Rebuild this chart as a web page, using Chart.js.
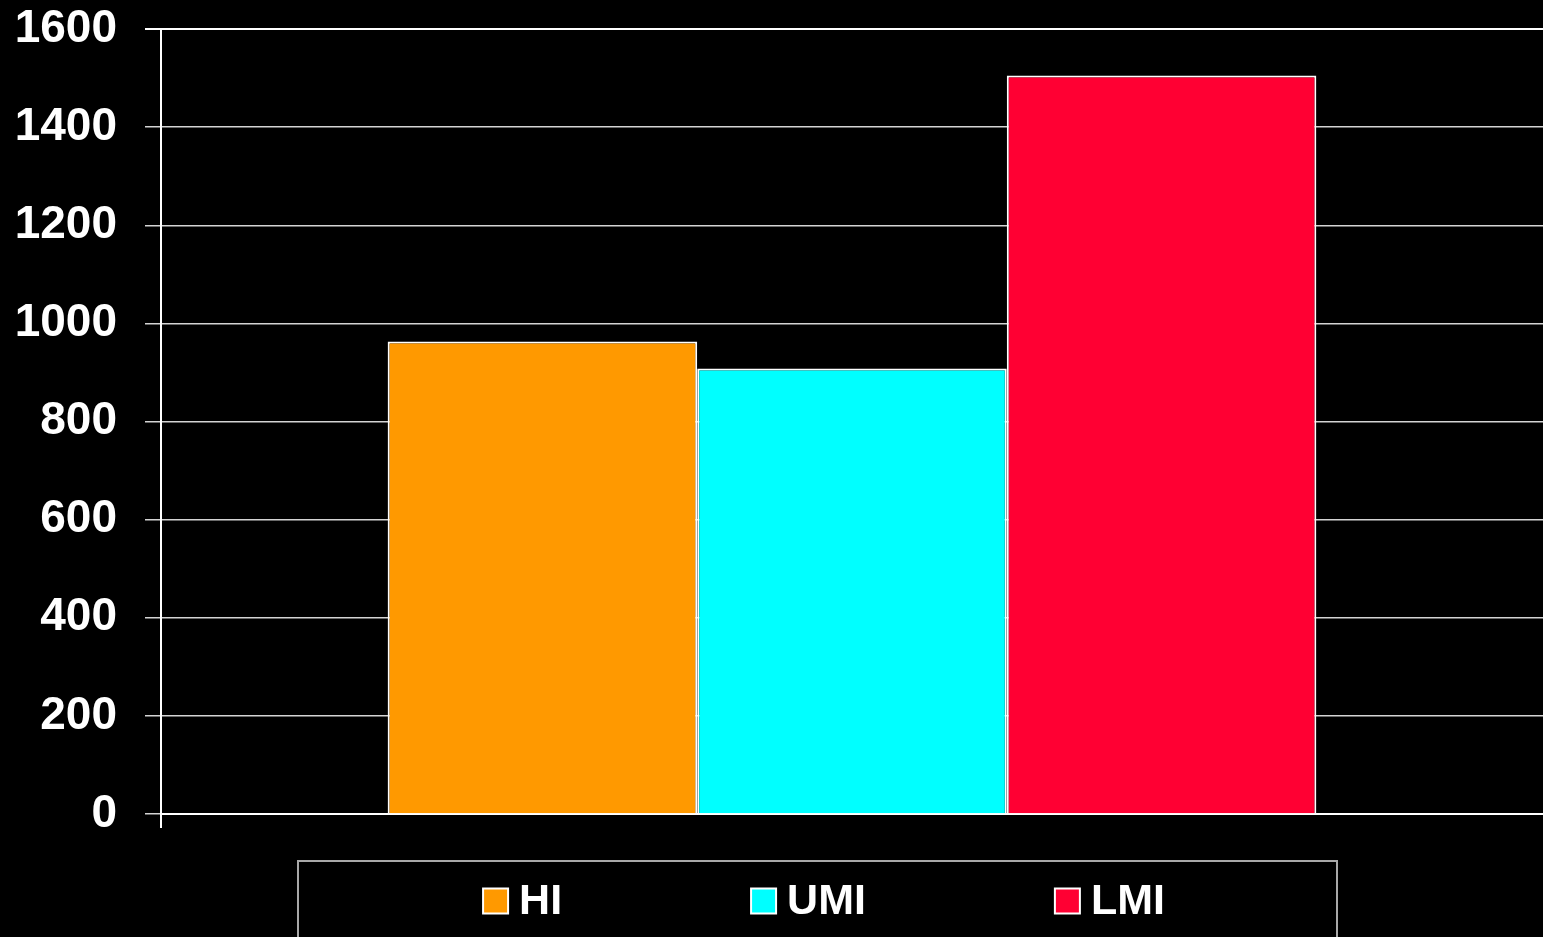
<!DOCTYPE html>
<html>
<head>
<meta charset="utf-8">
<script src="https://cdn.jsdelivr.net/npm/chart.js@4.4.1/dist/chart.umd.min.js"></script>
<style>
  html, body { margin: 0; padding: 0; background: #000; overflow: hidden; }
  #wrap { width: 1543px; height: 937px; position: relative; background: #000; }
</style>
</head>
<body>
<div id="wrap"><canvas id="c"></canvas></div>
<script>
const categories = [''];
const seriesNames = ['HI', 'UMI', 'LMI'];
const hiValues = [963];
const umiValues = [908];
const lmiValues = [1505];
const seriesColors = ['#FF9900', '#00FFFF', '#FF0033'];
const yTicks = [0, 200, 400, 600, 800, 1000, 1200, 1400, 1600];

const FONT = '"Liberation Sans", Arial, sans-serif';

const legendPlugin = {
  id: 'boxLegend',
  afterDraw(chart) {
    const ctx = chart.ctx;
    ctx.save();
    ctx.strokeStyle = '#a8a8a8';
    ctx.lineWidth = 2;
    ctx.strokeRect(298, 861, 1039, 90);
    ctx.font = 'bold 43px ' + FONT;
    ctx.textBaseline = 'middle';
    const box = 25, gap = 11, spacing = 189;
    const items = chart.data.datasets.map(ds => ({ label: ds.label, color: ds.backgroundColor, w: ctx.measureText(ds.label).width }));
    let total = 0;
    items.forEach((it, i) => { total += box + gap + it.w + (i < items.length - 1 ? spacing : 0); });
    let x = 824 - total / 2;
    const cy = 901;
    items.forEach(it => {
      ctx.fillStyle = it.color;
      ctx.fillRect(x, cy - box / 2, box, box);
      ctx.strokeStyle = '#ffffff';
      ctx.lineWidth = 2;
      ctx.strokeRect(x, cy - box / 2, box, box);
      ctx.fillStyle = '#ffffff';
      ctx.textAlign = 'left';
      ctx.fillText(it.label, x + box + gap, cy + 1);
      x += box + gap + it.w + spacing;
    });
    ctx.restore();
  }
};

const datasets = [hiValues, umiValues, lmiValues].map((vals, i) => ({
  label: seriesNames[i],
  data: vals,
  backgroundColor: seriesColors[i],
  borderColor: '#ffffff',
  borderWidth: 2,
  categoryPercentage: 0.672,
  barPercentage: 1.0
}));

new Chart(document.getElementById('c'), {
  type: 'bar',
  data: { labels: categories, datasets },
  options: {
    responsive: true,
    maintainAspectRatio: false,
    animation: false,
    layout: { padding: { top: 29, right: 0, bottom: 0, left: 0 } },
    plugins: {
      legend: { display: false },
      tooltip: { enabled: false }
    },
    scales: {
      x: {
        afterFit(scale) { scale.height = 123; scale.paddingLeft = 0; scale.paddingRight = 0; },
        ticks: { display: false },
        grid: {
          offset: true,
          drawOnChartArea: false,
          drawTicks: true,
          tickLength: 14,
          color: ctx => ctx.index === 0 ? '#ffffff' : 'rgba(0,0,0,0)',
          lineWidth: 2
        },
        border: { display: true, color: '#ffffff', width: 2 }
      },
      y: {
        min: 0,
        max: 1600,
        afterFit(scale) { scale.width = 161; scale.paddingTop = 0; scale.paddingBottom = 0; },
        afterBuildTicks(scale) { scale.ticks = yTicks.map(v => ({ value: v })); },
        ticks: {
          color: '#ffffff',
          padding: 28,
          font: { family: FONT, size: 46, weight: 'bold' },
          callback: v => String(v)
        },
        grid: {
          color: ctx => (ctx.tick && ctx.tick.value === 1600) ? '#ffffff' : '#d4d4d4',
          lineWidth: ctx => (ctx.tick && ctx.tick.value === 1600) ? 2 : 1.5,
          tickLength: 16,
          drawTicks: true
        },
        border: { display: true, color: '#ffffff', width: 2 }
      }
    }
  },
  plugins: [legendPlugin]
});
</script>
</body>
</html>
